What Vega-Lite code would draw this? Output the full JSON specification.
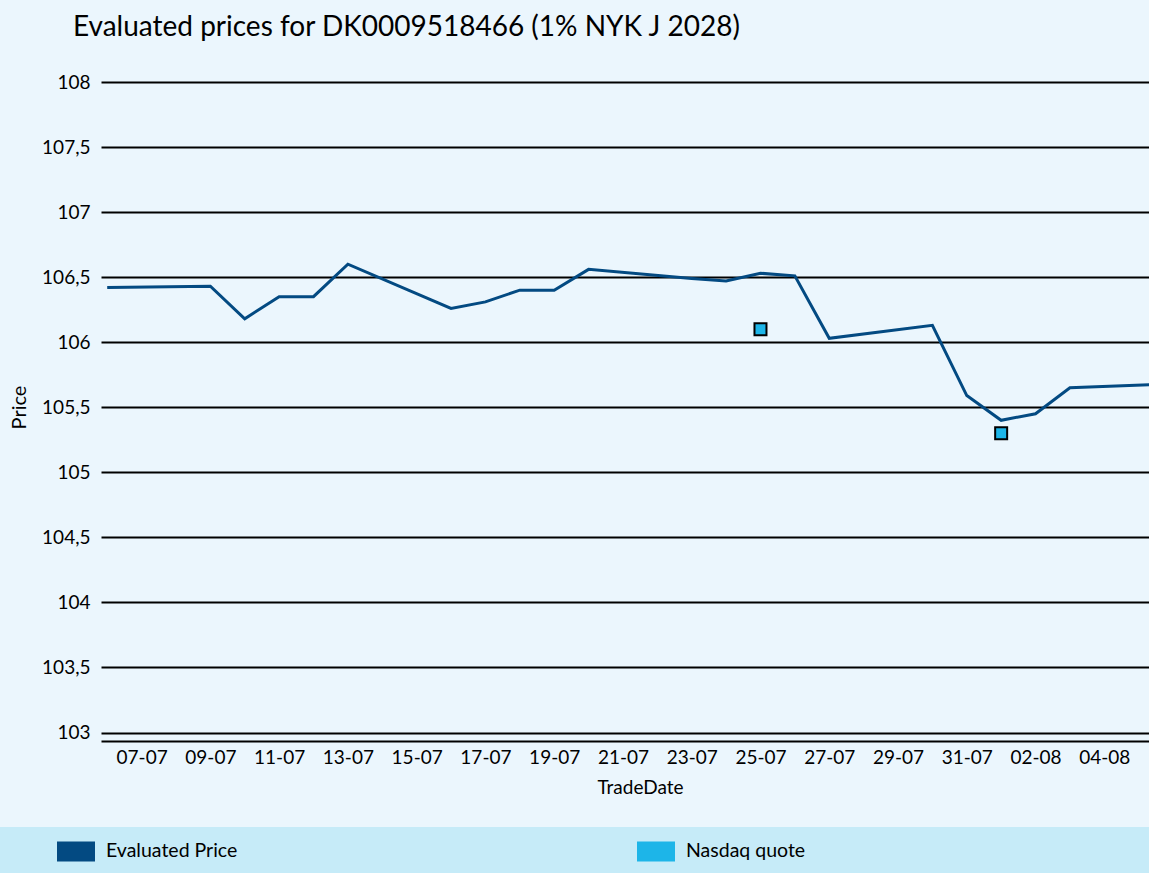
{
  "$schema": "https://vega.github.io/schema/vega-lite/v6.json",
  "width": 1048,
  "height": 659,
  "autosize": {"type": "none"},
  "padding": {"left": 101, "top": 82, "right": 0, "bottom": 132},
  "background": "#EBF6FD",
  "title": {
    "text": "Evaluated prices for DK0009518466 (1% NYK J 2028)",
    "anchor": "start",
    "frame": "group",
    "font": "Lato",
    "fontSize": 28,
    "fontWeight": "normal",
    "color": "#000000",
    "baseline": "alphabetic",
    "dx": -28,
    "offset": 9
  },
  "config": {"view": {"stroke": null}, "font": "Lato"},
  "data": {
    "values": [
      {"date": "2018-07-06", "price": 106.42, "series": "Evaluated Price"},
      {"date": "2018-07-09", "price": 106.43, "series": "Evaluated Price"},
      {"date": "2018-07-10", "price": 106.18, "series": "Evaluated Price"},
      {"date": "2018-07-11", "price": 106.35, "series": "Evaluated Price"},
      {"date": "2018-07-12", "price": 106.35, "series": "Evaluated Price"},
      {"date": "2018-07-13", "price": 106.60, "series": "Evaluated Price"},
      {"date": "2018-07-16", "price": 106.26, "series": "Evaluated Price"},
      {"date": "2018-07-17", "price": 106.31, "series": "Evaluated Price"},
      {"date": "2018-07-18", "price": 106.40, "series": "Evaluated Price"},
      {"date": "2018-07-19", "price": 106.40, "series": "Evaluated Price"},
      {"date": "2018-07-20", "price": 106.56, "series": "Evaluated Price"},
      {"date": "2018-07-23", "price": 106.49, "series": "Evaluated Price"},
      {"date": "2018-07-24", "price": 106.47, "series": "Evaluated Price"},
      {"date": "2018-07-25", "price": 106.53, "series": "Evaluated Price"},
      {"date": "2018-07-26", "price": 106.51, "series": "Evaluated Price"},
      {"date": "2018-07-27", "price": 106.03, "series": "Evaluated Price"},
      {"date": "2018-07-30", "price": 106.13, "series": "Evaluated Price"},
      {"date": "2018-07-31", "price": 105.59, "series": "Evaluated Price"},
      {"date": "2018-08-01", "price": 105.40, "series": "Evaluated Price"},
      {"date": "2018-08-02", "price": 105.45, "series": "Evaluated Price"},
      {"date": "2018-08-03", "price": 105.65, "series": "Evaluated Price"},
      {"date": "2018-08-06", "price": 105.68, "series": "Evaluated Price"},
      {"date": "2018-07-25", "price": 106.10, "series": "Nasdaq quote"},
      {"date": "2018-08-01", "price": 105.30, "series": "Nasdaq quote"}
    ]
  },
  "encoding": {
    "x": {
      "field": "date",
      "type": "temporal",
      "scale": {
        "type": "utc",
        "domain": [
          {"year": 2018, "month": 7, "date": 5, "hours": 19, "minutes": 40, "utc": true},
          {"year": 2018, "month": 8, "date": 5, "hours": 7, "minutes": 12, "utc": true}
        ]
      },
      "axis": {
        "values": [
          {"year": 2018, "month": 7, "date": 7, "utc": true},
          {"year": 2018, "month": 7, "date": 9, "utc": true},
          {"year": 2018, "month": 7, "date": 11, "utc": true},
          {"year": 2018, "month": 7, "date": 13, "utc": true},
          {"year": 2018, "month": 7, "date": 15, "utc": true},
          {"year": 2018, "month": 7, "date": 17, "utc": true},
          {"year": 2018, "month": 7, "date": 19, "utc": true},
          {"year": 2018, "month": 7, "date": 21, "utc": true},
          {"year": 2018, "month": 7, "date": 23, "utc": true},
          {"year": 2018, "month": 7, "date": 25, "utc": true},
          {"year": 2018, "month": 7, "date": 27, "utc": true},
          {"year": 2018, "month": 7, "date": 29, "utc": true},
          {"year": 2018, "month": 7, "date": 31, "utc": true},
          {"year": 2018, "month": 8, "date": 2, "utc": true},
          {"year": 2018, "month": 8, "date": 4, "utc": true}
        ],
        "labelExpr": "utcFormat(datum.value, '%d-%m')",
        "grid": false,
        "ticks": false,
        "domain": true,
        "domainColor": "#000000",
        "domainWidth": 2,
        "labelFont": "Lato",
        "labelFontSize": 19,
        "labelColor": "#000000",
        "labelPadding": 7,
        "labelFlush": false,
        "labelOverlap": false,
        "title": "TradeDate",
        "titleFont": "Lato",
        "titleFontSize": 19,
        "titleFontWeight": "normal",
        "titleColor": "#000000",
        "titleBaseline": "alphabetic",
        "titleX": 539,
        "titleY": 52
      }
    },
    "y": {
      "field": "price",
      "type": "quantitative",
      "scale": {"domain": [102.935, 108], "nice": false, "zero": false},
      "axis": {
        "values": [103, 103.5, 104, 104.5, 105, 105.5, 106, 106.5, 107, 107.5, 108],
        "format": ".1~f",
        "labelExpr": "replace(datum.label, '.', ',')",
        "grid": true,
        "gridColor": "#000000",
        "gridWidth": 2,
        "gridOpacity": 1,
        "ticks": false,
        "domain": false,
        "labelFont": "Lato",
        "labelFontSize": 19,
        "labelColor": "#000000",
        "labelPadding": 11,
        "title": "Price",
        "titleFont": "Lato",
        "titleFontSize": 20,
        "titleFontWeight": "normal",
        "titleColor": "#000000",
        "titleBaseline": "alphabetic",
        "titleX": -76,
        "titleY": 325
      }
    },
    "color": {
      "field": "series",
      "type": "nominal",
      "scale": {"domain": ["Evaluated Price", "Nasdaq quote"], "range": ["#034A82", "#1DB5E8"]},
      "legend": {
        "orient": "none",
        "legendX": -111,
        "legendY": 745,
        "direction": "horizontal",
        "title": " ",
        "titleOrient": "left",
        "titleFontSize": 10,
        "titlePadding": 62,
        "fillColor": "#C6EBF8",
        "padding": 5,
        "symbolType": "M-1,-0.5263H1V0.5263H-1ZM0,0.95",
        "symbolSize": 1444,
        "symbolStrokeWidth": 0,
        "symbolOpacity": 1,
        "labelFont": "Lato",
        "labelFontSize": 19.5,
        "labelColor": "#000000",
        "labelOffset": 11,
        "labelLimit": 3000,
        "columnPadding": 399,
        "labelExpr": "datum.label == 'Nasdaq quote' ? pad(datum.label, 220) + '\u200b' : datum.label",
        "encode": {
          "symbols": {
            "update": {
              "fill": {"scale": "color", "field": "value"},
              "stroke": {"value": "transparent"},
              "opacity": {"value": 1}
            }
          }
        }
      }
    }
  },
  "layer": [
    {
      "transform": [{"filter": "datum.series == 'Evaluated Price'"}],
      "mark": {"type": "line", "strokeWidth": 3, "clip": true}
    },
    {
      "transform": [{"filter": "datum.series == 'Nasdaq quote'"}],
      "mark": {"type": "square", "size": 144, "filled": true, "opacity": 1, "stroke": "#000000", "strokeWidth": 2}
    }
  ]
}
